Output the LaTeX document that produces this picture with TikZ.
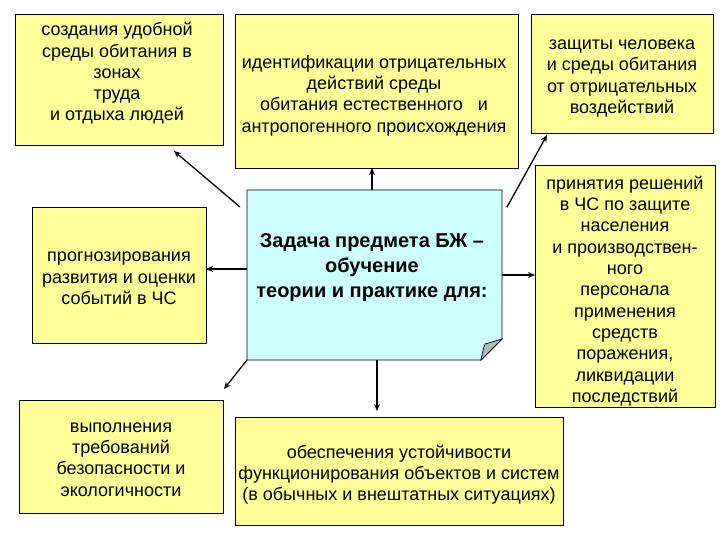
\documentclass[tikz,border=0pt]{standalone}
\usepackage{fontspec}
\setmainfont{Liberation Sans}
\usetikzlibrary{arrows.meta}
\definecolor{boxyellow}{RGB}{255,255,153}
\definecolor{boxcyan}{RGB}{204,255,255}
\definecolor{flapgray}{RGB}{170,190,190}
\tikzset{
  box/.style={draw=black, line width=0.9pt, fill=boxyellow, rectangle, inner sep=0pt},
  txt/.style={align=center, inner sep=0pt, font=\fontsize{18}{21.3}\selectfont},
  boldtxt/.style={align=center, inner sep=0pt, font=\fontsize{20}{25}\selectfont\bfseries},
  arr/.style={line width=1.3pt, -{Stealth[length=7pt,width=6pt]}}
}
\begin{document}
\begin{tikzpicture}[x=1pt,y=-1pt]
\useasboundingbox (0,0) rectangle (720,540);
% boxes
\node[box, minimum width=208pt, minimum height=131pt] (b1) at (119,79.5) {};
\node[box, minimum width=283pt, minimum height=154pt] (b2) at (376.5,91) {};
\node[box, minimum width=182pt, minimum height=119pt] (b3) at (622,73.5) {};
\node[box, minimum width=180pt, minimum height=242pt] (b4) at (625,286) {};
\node[box, minimum width=174pt, minimum height=136pt] (b5) at (119,275) {};
\node[box, minimum width=204pt, minimum height=113pt] (b6) at (121,456.5) {};
\node[box, minimum width=328pt, minimum height=108pt] (b7) at (399,471) {};
% center note
\coordinate (cnw) at (247,190);
\coordinate (cne) at (502,190);
\coordinate (cf1) at (502,339);
\coordinate (cf2) at (481,360);
\coordinate (csw) at (247,360);
\coordinate (cfl) at (485,344);
\draw[line width=0.9pt, fill=boxcyan] (cnw) -- (cne) -- (cf1) -- (cf2) -- (csw) -- cycle;
\draw[line width=0.7pt, fill=flapgray] (cf1) .. controls (494,341) .. (cfl) .. controls (483,350) .. (cf2) -- cycle;
% texts
\node[txt] (t1) at (117,73.5) {создания удобной\\среды обитания в\\зонах\\труда\\и отдыха людей};
\node[txt] (t2) at (374,95.5) {идентификации отрицательных\\действий среды\\обитания естественного~~ и\\антропогенного происхождения};
\node[txt] (t3) at (622,78.5) {защиты человека\\и среды обитания\\от отрицательных\\воздействий};
\node[txt] (t4) at (625,291) {принятия решений\\в ЧС по защите\\населения\\и производствен-\\ного\\персонала\\применения\\средств\\поражения,\\ликвидации\\последствий};
\node[txt] (t5) at (119,278.5) {прогнозирования\\развития и оценки\\событий в ЧС};
\node[txt] (t6) at (121,459.5) {выполнения\\требований\\безопасности и\\экологичности};
\node[txt] (t7) at (399,474.5) {обеспечения устойчивости\\функционирования объектов и систем\\(в обычных и внештатных ситуациях)};
\node[boldtxt] (tc) at (372,268) {Задача предмета БЖ –\\обучение\\теории и практике для:};
% arrow end points
\coordinate (a1s) at (240,207);  \coordinate (a1e) at (174,151);
\coordinate (a2s) at (372,190);  \coordinate (a2e) at (372,168);
\coordinate (a3s) at (507,207);  \coordinate (a3e) at (547,135);
\coordinate (a4s) at (502,275);  \coordinate (a4e) at (535,275);
\coordinate (a5s) at (377,360);  \coordinate (a5e) at (377,411);
\coordinate (a6s) at (247,360);  \coordinate (a6e) at (224,389);
\coordinate (a7s) at (247,269);  \coordinate (a7e) at (206,269);
\draw[arr] (a1s) -- (a1e);
\draw[arr] (a2s) -- (a2e);
\draw[arr] (a3s) -- (a3e);
\draw[arr] (a4s) -- (a4e);
\draw[arr] (a5s) -- (a5e);
\draw[arr] (a6s) -- (a6e);
\draw[arr] (a7s) -- (a7e);
\end{tikzpicture}
\end{document}
